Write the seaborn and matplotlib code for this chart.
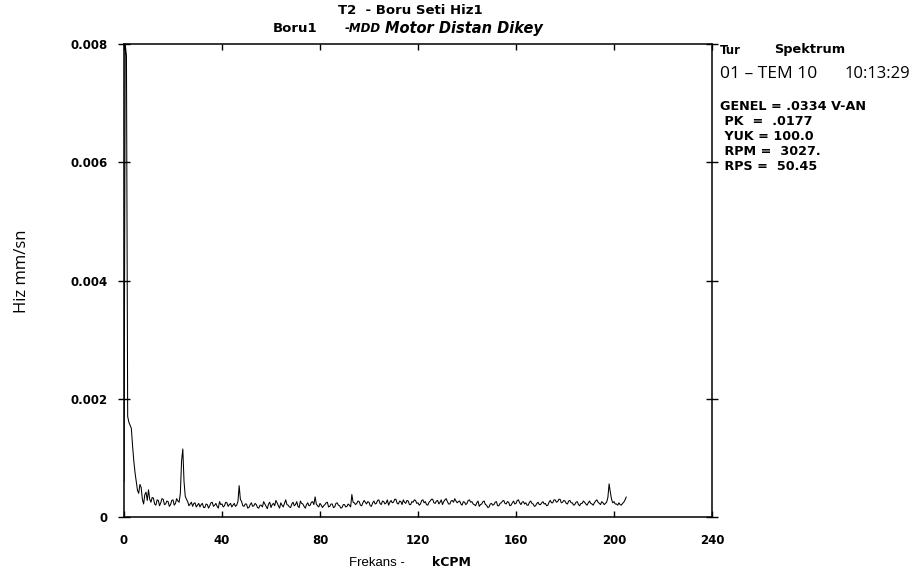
import numpy as np
import pandas as pd
import matplotlib
matplotlib.use("Agg")
import matplotlib.pyplot as plt
import seaborn as sns

# ---- data ----
freq_start = 0.0      # kCPM
freq_step = 0.5       # kCPM per spectral line
hiz = [
    60e-5, 800e-5, 780e-5, 170e-5, 160e-5, 155e-5, 150e-5, 120e-5, 95e-5, 75e-5,
    60e-5, 45e-5, 40e-5, 55e-5, 50e-5, 30e-5, 22e-5, 38e-5, 42e-5, 28e-5,
    46e-5, 30e-5, 25e-5, 33e-5, 32e-5, 22e-5, 20e-5, 29e-5, 28e-5, 19e-5,
    24e-5, 31e-5, 30e-5, 21e-5, 22e-5, 27e-5, 26e-5, 18e-5, 21e-5, 28e-5,
    29e-5, 20e-5, 23e-5, 31e-5, 27e-5, 25e-5, 40e-5, 95e-5, 115e-5, 60e-5,
    35e-5, 30e-5, 26e-5, 19e-5, 22e-5, 25e-5, 18e-5, 23e-5, 24e-5, 17e-5,
    20e-5, 23e-5, 17e-5, 21e-5, 23e-5, 16e-5, 16e-5, 22e-5, 21e-5, 15e-5,
    19e-5, 24e-5, 25e-5, 18e-5, 20e-5, 23e-5, 18e-5, 15e-5, 26e-5, 21e-5,
    22e-5, 17e-5, 19e-5, 25e-5, 24e-5, 18e-5, 21e-5, 23e-5, 17e-5, 20e-5,
    23e-5, 18e-5, 20e-5, 26e-5, 53e-5, 30e-5, 26e-5, 19e-5, 18e-5, 22e-5,
    22e-5, 15e-5, 16e-5, 21e-5, 24e-5, 18e-5, 19e-5, 23e-5, 21e-5, 16e-5,
    15e-5, 20e-5, 20e-5, 17e-5, 26e-5, 22e-5, 18e-5, 14e-5, 22e-5, 25e-5,
    16e-5, 21e-5, 23e-5, 19e-5, 28e-5, 24e-5, 19e-5, 15e-5, 24e-5, 20e-5,
    17e-5, 23e-5, 29e-5, 21e-5, 20e-5, 17e-5, 16e-5, 22e-5, 25e-5, 19e-5,
    21e-5, 26e-5, 18e-5, 16e-5, 27e-5, 23e-5, 22e-5, 18e-5, 15e-5, 21e-5,
    24e-5, 19e-5, 20e-5, 25e-5, 26e-5, 21e-5, 34e-5, 22e-5, 19e-5, 17e-5,
    23e-5, 20e-5, 16e-5, 19e-5, 21e-5, 24e-5, 25e-5, 17e-5, 18e-5, 22e-5,
    22e-5, 16e-5, 17e-5, 23e-5, 24e-5, 20e-5, 19e-5, 15e-5, 16e-5, 21e-5,
    21e-5, 17e-5, 18e-5, 22e-5, 20e-5, 17e-5, 38e-5, 25e-5, 24e-5, 21e-5,
    23e-5, 27e-5, 26e-5, 20e-5, 19e-5, 24e-5, 28e-5, 25e-5, 22e-5, 26e-5,
    25e-5, 19e-5, 18e-5, 24e-5, 27e-5, 22e-5, 23e-5, 28e-5, 29e-5, 23e-5,
    21e-5, 27e-5, 26e-5, 22e-5, 24e-5, 29e-5, 20e-5, 25e-5, 28e-5, 24e-5,
    25e-5, 30e-5, 30e-5, 23e-5, 22e-5, 27e-5, 26e-5, 21e-5, 29e-5, 25e-5,
    23e-5, 28e-5, 27e-5, 21e-5, 21e-5, 26e-5, 25e-5, 29e-5, 28e-5, 23e-5,
    24e-5, 20e-5, 22e-5, 28e-5, 29e-5, 24e-5, 26e-5, 21e-5, 20e-5, 25e-5,
    27e-5, 30e-5, 30e-5, 24e-5, 23e-5, 27e-5, 28e-5, 22e-5, 25e-5, 29e-5,
    21e-5, 26e-5, 29e-5, 31e-5, 26e-5, 22e-5, 22e-5, 27e-5, 28e-5, 25e-5,
    31e-5, 27e-5, 24e-5, 26e-5, 27e-5, 22e-5, 20e-5, 26e-5, 25e-5, 21e-5,
    23e-5, 28e-5, 29e-5, 25e-5, 26e-5, 22e-5, 21e-5, 19e-5, 24e-5, 27e-5,
    18e-5, 21e-5, 22e-5, 26e-5, 27e-5, 21e-5, 20e-5, 16e-5, 17e-5, 22e-5,
    23e-5, 20e-5, 21e-5, 25e-5, 26e-5, 19e-5, 19e-5, 23e-5, 24e-5, 27e-5,
    28e-5, 23e-5, 22e-5, 26e-5, 25e-5, 19e-5, 20e-5, 24e-5, 27e-5, 22e-5,
    23e-5, 28e-5, 29e-5, 24e-5, 21e-5, 25e-5, 26e-5, 22e-5, 24e-5, 20e-5,
    20e-5, 25e-5, 27e-5, 23e-5, 22e-5, 18e-5, 19e-5, 23e-5, 25e-5, 21e-5,
    21e-5, 24e-5, 26e-5, 22e-5, 23e-5, 19e-5, 20e-5, 25e-5, 28e-5, 24e-5,
    24e-5, 29e-5, 29e-5, 25e-5, 26e-5, 30e-5, 30e-5, 24e-5, 25e-5, 28e-5,
    27e-5, 23e-5, 22e-5, 27e-5, 28e-5, 24e-5, 24e-5, 20e-5, 21e-5, 25e-5,
    26e-5, 21e-5, 19e-5, 23e-5, 23e-5, 27e-5, 25e-5, 22e-5, 20e-5, 24e-5,
    27e-5, 23e-5, 22e-5, 20e-5, 24e-5, 27e-5, 29e-5, 25e-5, 23e-5, 21e-5,
    26e-5, 24e-5, 21e-5, 23e-5, 25e-5, 33e-5, 56e-5, 42e-5, 30e-5, 24e-5,
    26e-5, 22e-5, 22e-5, 20e-5, 24e-5, 21e-5, 20e-5, 23e-5, 25e-5, 29e-5,
    34e-5,
]
x_ticks = [0, 40, 80, 120, 160, 200, 240]
y_ticks = [0, 0.002, 0.004, 0.006, 0.008]
y_tick_labels = ["0", "0.002", "0.004", "0.006", "0.008"]

title1 = "T2  - Boru Seti Hiz1"
title2a = "Boru1"
title2b = "-MDD"
title2c = "Motor Distan Dikey"
ylabel = "Hiz mm/sn"
xlabel_a = "Frekans -"
xlabel_b = "kCPM"
info_tur = ("Tur", "Spektrum")
info_date = ("01 – TEM 10", "10:13:29")
info_lines = ["GENEL = .0334 V-AN", " PK  =  .0177", " YUK = 100.0",
              " RPM =  3027.", " RPS =  50.45"]

freqs = freq_start + freq_step * np.arange(len(hiz))
df = pd.DataFrame({"freq": freqs, "hiz": hiz})

# ---- plot ----
sns.set_theme(style="white")
plt.rcParams["font.family"] = ["DejaVu Sans"]
plt.rcParams["text.color"] = "black"
plt.rcParams["axes.labelcolor"] = "black"

W, H = 916, 582
fig = plt.figure(figsize=(W / 100, H / 100), dpi=100)
ax = fig.add_axes([124 / W, 1 - 517 / H, (712 - 124) / W, (517 - 44) / H])

sns.lineplot(data=df, x="freq", y="hiz", ax=ax, color="black", linewidth=0.75)

ax.set_xlim(0, 240)
ax.set_ylim(0, 0.008)
ax.set_xticks(x_ticks)
ax.set_xticklabels([str(t) for t in x_ticks], fontweight="bold", fontsize=8.5)
ax.set_yticks(y_ticks)
ax.set_yticklabels(y_tick_labels, fontweight="bold", fontsize=8.5)
ax.set_xlabel("")
ax.set_ylabel("")
for s in ax.spines.values():
    s.set_color("black")
    s.set_linewidth(1.1)
ax.tick_params(axis="x", which="both", direction="in", length=4, width=1,
               top=True, bottom=True, pad=12, colors="black")
ax.tick_params(axis="y", which="both", direction="inout", length=8, width=1,
               left=True, right=True, pad=8, colors="black")


def px(x, y):
    return x / W, 1 - y / H


fig.text(*px(410, 11), title1, ha="center", va="center", fontsize=9.5, fontweight="bold")
fig.text(*px(273, 28), title2a, ha="left", va="center", fontsize=9.5, fontweight="bold")
fig.text(*px(345, 28), title2b, ha="left", va="center", fontsize=8.5,
         fontweight="bold", style="italic")
fig.text(*px(385, 28), title2c, ha="left", va="center", fontsize=10.5,
         fontweight="bold", style="italic")

fig.text(*px(22, 271), ylabel, ha="center", va="center", rotation=90,
         fontsize=12, family=["Open Sans", "DejaVu Sans"])
fig.text(*px(405, 563), xlabel_a, ha="right", va="center", fontsize=9.5,
         family=["Liberation Sans", "DejaVu Sans"])
fig.text(*px(432, 563), xlabel_b, ha="left", va="center", fontsize=9, fontweight="bold")

fig.text(*px(720, 50), info_tur[0], ha="left", va="center", fontsize=8.5, fontweight="bold")
fig.text(*px(774, 50), info_tur[1], ha="left", va="center", fontsize=9.3, fontweight="bold")
fig.text(*px(720, 74), info_date[0], ha="left", va="center", fontsize=12.5,
         family=["Open Sans", "DejaVu Sans"])
fig.text(*px(910, 74), info_date[1], ha="right", va="center", fontsize=12,
         family=["Open Sans", "DejaVu Sans"])
for i, line in enumerate(info_lines):
    fig.text(*px(720, 106 + i * 15.2), line, ha="left", va="center",
             fontsize=9.2, fontweight="bold")

fig.savefig("out.png", dpi=100, facecolor="white")
